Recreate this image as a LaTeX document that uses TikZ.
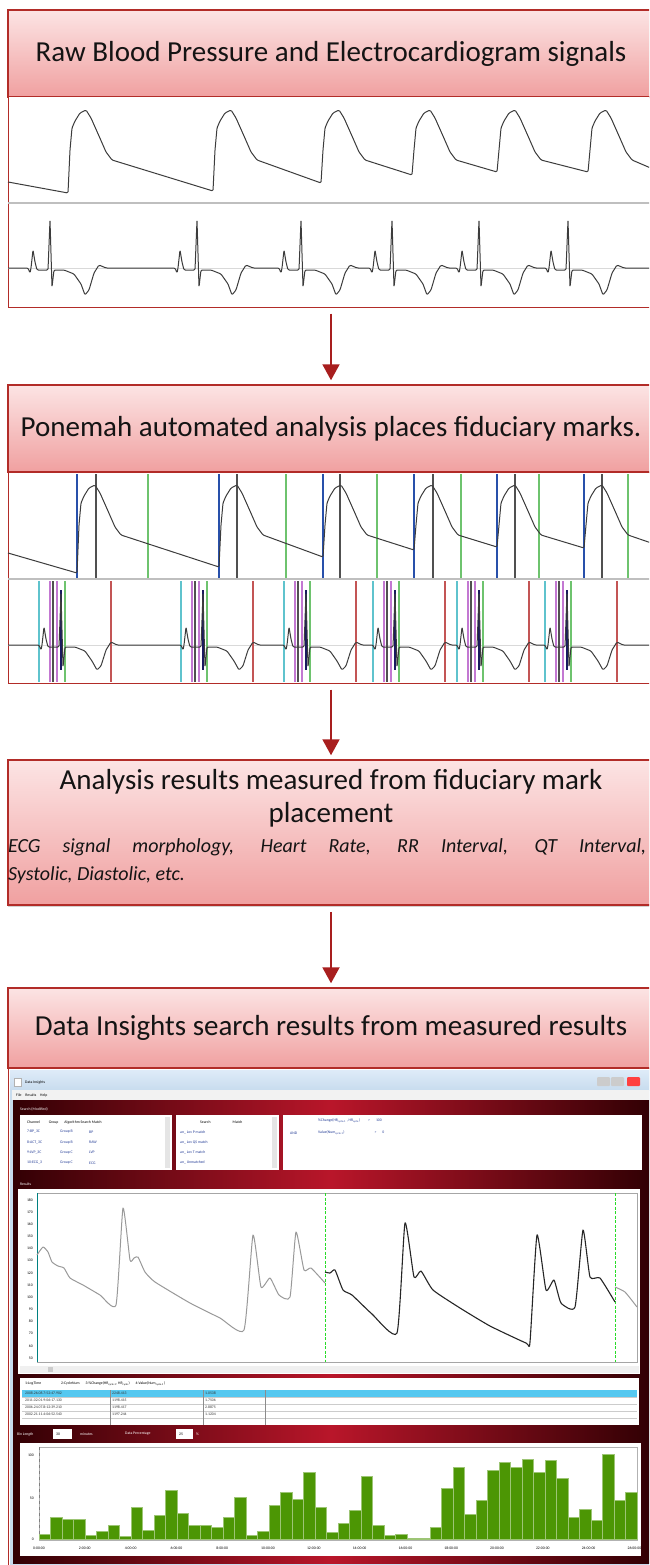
\documentclass[tikz,border=0pt]{standalone}
\usepackage{fontspec}
\setmainfont{Carlito}
\usetikzlibrary{positioning, arrows.meta, calc, shadows}

\definecolor{boxred}{RGB}{178,44,40}
\definecolor{headtop}{RGB}{252,228,228}
\definecolor{headbot}{RGB}{240,160,160}
\definecolor{flowred}{RGB}{168,30,30}
\definecolor{trace}{RGB}{60,60,60}
\definecolor{fidblue}{RGB}{40,80,170}
\definecolor{fidgray}{RGB}{80,80,80}
\definecolor{fidgreen}{RGB}{110,195,110}
\definecolor{fidcyan}{RGB}{95,195,205}
\definecolor{fidpink}{RGB}{195,120,210}
\definecolor{fidred}{RGB}{195,85,85}
\definecolor{fidnavy}{RGB}{25,25,95}
\definecolor{winblue}{RGB}{200,220,238}
\definecolor{wintop}{RGB}{222,235,248}
\definecolor{maroon}{RGB}{50,0,4}
\definecolor{winred}{RGB}{185,22,42}
\definecolor{selcyan}{RGB}{85,200,240}
\definecolor{listblue}{RGB}{35,60,150}
\definecolor{barg}{RGB}{76,150,4}
\definecolor{cursor}{RGB}{40,220,40}

\begin{document}
\begin{tikzpicture}[x=1pt, y=-1pt,
  head/.style={draw=boxred, line width=1.5pt, top color=headtop, bottom color=headbot,
    minimum width=646pt, inner sep=0pt, font=\fontsize{29}{32}\selectfont, text=black!92,
    drop shadow={shadow xshift=0pt, shadow yshift=-2pt, opacity=0.35}},
  panel/.style={draw=boxred, line width=1pt, fill=white, minimum width=646pt, inner sep=0pt},
  flow/.style={draw=flowred, line width=2pt, -{Triangle[length=16pt, width=17pt]},
    shorten <=6pt, shorten >=4pt},
  sig/.style={draw=trace, line width=1pt, line join=round, rounded corners=1.2pt},
  sep/.style={draw=black!25, line width=1.5pt},
  zero/.style={draw=black!15, line width=0.6pt},
  fid/.style={line width=1.2pt},
  tiny/.style={font=\fontsize{3.8}{4.2}\selectfont, inner sep=0pt},
  pane/.style={fill=white, draw=black!30, line width=0.4pt}]

\useasboundingbox (0,0) rectangle (649,1565);
\clip (0,0) rectangle (649,1565);
\fill[white] (0,0) rectangle (649,1565);

\node[head, minimum height=87pt] (rawhead) at (331,53.5) {Raw Blood Pressure and Electrocardiogram signals};
\node[panel, minimum height=210pt] (rawsig) at (331,202) {};
\node[head, minimum height=87pt] (fidhead) at (331,428.5) {Ponemah automated analysis places fiduciary marks.};
\node[panel, minimum height=211pt] (fidsig) at (331,577.5) {};
\node[head, minimum height=145pt] (reshead) at (331,832.5) {};
\node[head, minimum height=80pt] (dihead) at (331,1028) {Data Insights search results from measured results};
\node[panel, minimum height=497pt] (dishot) at (331,1316.5) {};

\node[font=\fontsize{29}{32}\selectfont, text=black!92] (restitle) at (331,782) {Analysis results measured from fiduciary mark};
\node[font=\fontsize{29}{32}\selectfont, text=black!92] (resplace) at (331,815) {placement};
\node[anchor=west, inner sep=0pt, font=\fontsize{20}{22}\selectfont\itshape, text=black!92] (reslist) at (8,847)
  {\makebox[638pt][s]{ECG signal morphology, Heart Rate, RR Interval, QT Interval,}};
\node[anchor=west, inner sep=0pt, font=\fontsize{20}{22}\selectfont\itshape, text=black!92] (resetc) at (8,875)
  {Systolic, Diastolic, etc.};

\draw[flow] (rawsig.south) -- (fidhead.north);
\draw[flow] (fidsig.south) -- (reshead.north);
\draw[flow] (reshead.south) -- (dihead.north);

% raw signals
\draw[sep] (8,203) -- (654,203);
\draw[zero] (8,268) -- (654,268);
\draw[sig] (8,182) \foreach \u/\l in {68/193,213/191,321/183,412/175,497/172,588/172}{
  -- (\u,\l) -- (\u+2,150) -- (\u+4,128) -- (\u+7,121) -- (\u+12,113) -- (\u+18,110)
  -- (\u+23,118) -- (\u+31,136) -- (\u+38,152) -- (\u+44,160)} -- (660,172);
\draw[sig] (8,268) \foreach \r in {50,197,301,392,479,568}{
  -- (\r-22,268) -- (\r-20,273) -- (\r-19,268) -- (\r-17,250) -- (\r-15,262) -- (\r-13,270)
  -- (\r-2,270) -- (\r,220) -- (\r+2,287) -- (\r+4,270) -- (\r+14,270) -- (\r+24,274)
  -- (\r+31,284) -- (\r+35,295) -- (\r+39,290) -- (\r+44,273) -- (\r+49,265) -- (\r+56,268)} -- (660,268);

% marked signals
\draw[sep] (8,579) -- (654,579);
\draw[zero] (8,645) -- (654,645);
\foreach \u/\p/\g in {77/96/148,219/237/286,323/340/377,414/433/461,497/515/539,584/602/628}{
  \draw[fid, fidblue] (\u,474) -- (\u,578);
  \draw[fid, fidgray] (\p,474) -- (\p,578);
  \draw[fid, fidgreen] (\g,474) -- (\g,578);
}
\foreach \r in {61,203,306,395,479,567}{
  \draw[fid, fidcyan] (\r-22,581) -- (\r-22,682);
  \draw[fid, fidpink] (\r-11,581) -- (\r-11,682);
  \draw[fid, fidgray] (\r-8,581) -- (\r-8,682);
  \draw[fid, fidpink] (\r-4,581) -- (\r-4,682);
  \draw[fid, fidgreen] (\r+4,581) -- (\r+4,682);
  \draw[fid, fidred] (\r+50,581) -- (\r+50,682);
  \draw[fidnavy, line width=2pt] (\r,590) -- (\r,670);
}
\draw[sig] (8,553) \foreach \u/\l in {77/573,219/567,323/557,414/550,497/547,584/548}{
  -- (\u,\l) -- (\u+2,525) -- (\u+4,503) -- (\u+7,496) -- (\u+12,488) -- (\u+18,485)
  -- (\u+23,493) -- (\u+31,511) -- (\u+38,527) -- (\u+44,535)} -- (660,546);
\draw[sig] (8,645) \foreach \r in {61,203,306,395,479,567}{
  -- (\r-22,645) -- (\r-20,650) -- (\r-19,645) -- (\r-17,627) -- (\r-15,639) -- (\r-13,647)
  -- (\r-2,647) -- (\r,593) -- (\r+2,667) -- (\r+4,647) -- (\r+14,647) -- (\r+24,651)
  -- (\r+31,661) -- (\r+36,670) -- (\r+40,666) -- (\r+45,650) -- (\r+50,642) -- (\r+56,645)} -- (660,645);

% data insights window
\fill[winblue] (10,1070) rectangle (654,1565);
\shade[top color=wintop, bottom color=winblue] (10,1070) rectangle (654,1090);
\fill[white, draw=black!30, line width=0.3pt] (14,1078) rectangle (21,1086);
\node[tiny, anchor=west] (wintitle) at (25,1082) {Data Insights};
\foreach \bx/\bc in {597/black!20, 611/black!20, 627/red!75}
  \fill[\bc, rounded corners=1pt] (\bx,1077) rectangle ++(13,9);
\fill[black!5] (12,1090) rectangle (652,1100);
\node[tiny, anchor=west] (winmenu) at (16,1095) {File\quad Results\quad Help};
\shade[left color=maroon, right color=maroon, middle color=winred] (13,1100) rectangle (649,1563);

\node[tiny, anchor=west, white] (searchlbl) at (20,1109) {Search (Modified)};
\fill[white] (20,1115) rectangle (172,1170);
\fill[white] (176,1115) rectangle (279,1170);
\fill[white] (283,1115) rectangle (642,1170);
\fill[black!10] (165,1117) rectangle (170,1168);
\fill[black!10] (272,1117) rectangle (277,1168);
\node[tiny, anchor=west] (chhead) at (27,1122) {Channel\hspace{9pt}Group\hspace{6pt}Algorithm Search Match};
\foreach \ch/\grp/\alg [count=\i from 0] in {7:BP\_3C/Group B/BP, 8:ACT\_3C/Group B/RAW, 9:LVP\_3C/Group C/LVP, 10:ECG\_3/Group C/ECG}{
  \node[tiny, anchor=west, listblue] (ch\i) at (27,1132+10.3*\i) {\ch};
  \node[tiny, anchor=west, listblue] (grp\i) at (60,1132+10.3*\i) {\grp};
  \node[tiny, anchor=west, listblue] (alg\i) at (89,1132+10.3*\i) {\alg};
}
\node[tiny, anchor=west] (srhead) at (200,1122) {Search\hspace{22pt}Match};
\foreach \s [count=\i from 0] in {an\_ Lov P match, an\_ Lov QS match, an\_ Lov T match, an\_ Unmatched}
  \node[tiny, anchor=west, listblue] (sr\i) at (180,1132+10.3*\i) {\s};
\node[tiny, anchor=west, listblue] (cond1) at (318,1121) {\%Change(HR\textsubscript{cycle-1} , HR\textsubscript{cycle})\hspace{8pt}>\hspace{6pt}100};
\node[tiny, anchor=west, listblue] (condand) at (290,1133) {AND};
\node[tiny, anchor=west, listblue] (cond2) at (318,1133) {Value(Num\textsubscript{cycle-1})\hspace{30pt}>\hspace{6pt}0};

\node[tiny, anchor=west, white] (reslbl) at (20,1184) {Results};
\fill[white] (18,1189) rectangle (640,1374);
\draw[black!35, line width=0.4pt] (37,1193) rectangle (637,1362);
\fill[black!6] (20,1366) rectangle (639,1373);
\fill[black!20] (48,1367) rectangle (53,1372);
\foreach \v [count=\i from 0] in {180,170,...,50}
  \node[tiny, anchor=east] (yl\i) at (33,1200+12.15*\i) {\v};
\draw[teal, line width=1pt] (37,1193) -- (37,1362);
\draw[cursor, dash pattern=on 3pt off 1.5pt, line width=1pt] (325,1193) -- (325,1362);
\draw[cursor, dash pattern=on 3pt off 1.5pt, line width=1pt] (615,1193) -- (615,1362);
\draw[black!40, line width=1pt, line join=round] plot[smooth, tension=0.3] coordinates {
  (37,1255) (43,1247) (48,1252) (52,1262) (58,1266) (64,1268) (70,1278) (83,1285) (100,1295) (116,1305)
  (123,1208) (130,1260) (134,1258) (138,1257) (145,1272) (155,1282) (190,1303) (220,1318) (244,1330)
  (253,1235) (261,1287) (270,1278) (279,1295) (290,1297) (296,1232) (304,1270) (311,1268) (325,1283)};
\draw[black!85, line width=1.1pt, line join=round] plot[smooth, tension=0.3] coordinates {
  (325,1272) (330,1273) (335,1270) (343,1290) (352,1295) (372,1314) (397,1333) (405,1223) (414,1277)
  (421,1271) (433,1290) (460,1308) (490,1326) (526,1343) (530,1342) (537,1235) (546,1290) (554,1280)
  (561,1303) (575,1307) (583,1230) (590,1277) (600,1278) (615,1302)};
\draw[black!40, line width=1pt, line join=round] plot[smooth, tension=0.3] coordinates {
  (615,1287) (625,1292) (637,1307)};

\fill[white] (20,1378) rectangle (639,1425);
\fill[selcyan] (22,1390) rectangle (637,1397);
\foreach \ry in {1397,1404,1411,1418}
  \draw[black!20, line width=0.3pt] (22,\ry) -- (637,\ry);
\foreach \cx in {110,203,265}
  \draw[black!45, line width=0.3pt] (\cx,1390) -- (\cx,1425);
\node[tiny, anchor=west] (tbhead) at (25,1384) {1:LogTime\hspace{20pt}2:CycleNum\hspace{6pt}3:\%Change(HR\textsubscript{cycle-1}, HR\textsubscript{cycle})\hspace{6pt}4:Value(Num\textsubscript{cycle-1})};
\foreach \ta/\tb/\tc [count=\i from 0] in {2008.26.08.7:52:47.902/2248.413/1.0538, 2011.02.01.9:06:17.130/1198.415/1.7506,
  2006.24.07.8:12:39.210/1198.417/2.8875, 2002.21.11.4:06:52.540/1197.244/1.1204}{
  \node[tiny, anchor=west, black!80] (ta\i) at (25,1393.5+7*\i) {\ta};
  \node[tiny, anchor=west, black!80] (tb\i) at (112,1393.5+7*\i) {\tb};
  \node[tiny, anchor=west, black!80] (tc\i) at (205,1393.5+7*\i) {\tc};
}

\node[tiny, anchor=west, white] (binlbl) at (17,1434) {Bin Length};
\fill[white] (53,1429) rectangle (72,1439);
\node[tiny, anchor=west] (binval) at (56,1434) {30};
\node[tiny, anchor=west, white] (binunit) at (80,1434) {minutes};
\node[tiny, anchor=west, white] (pctlbl) at (125,1434) {Data Percentage};
\fill[white] (176,1429) rectangle (193,1439);
\node[tiny, anchor=west] (pctval) at (179,1434) {25};
\node[tiny, anchor=west, white] (pctunit) at (196,1434) {\%};

\fill[white] (20,1443) rectangle (641,1556);
\draw[black!30, line width=0.4pt] (39,1447) rectangle (637,1540);
\draw[black!50, dashed, line width=0.4pt] (39,1447) -- (39,1540);
\foreach \v/\vy in {100/1455, 50/1498, 0/1539}
  \node[tiny, anchor=east] (hy\v) at (34,\vy) {\v};
\foreach \h [count=\i from 0] in {6,26,24,23,4,9,16,3,38,10,28,58,31,16,16,14,26,50,5,9,40,56,47,79,38,8,
  19,34,75,16,4,6,1,1,14,61,86,30,46,82,91,85,95,80,94,72,26,35,22,101,46,56}
  \fill[barg, draw=barg!55!white, line width=0.4pt] (39+11.5*\i,1539) rectangle ++(11.5,-0.84*\h);
\foreach \t [count=\i from 0] in {0,2,...,26}
  \node[tiny] (hx\i) at (39+45.8*\i,1548) {\t:00:00};

\end{tikzpicture}
\end{document}
